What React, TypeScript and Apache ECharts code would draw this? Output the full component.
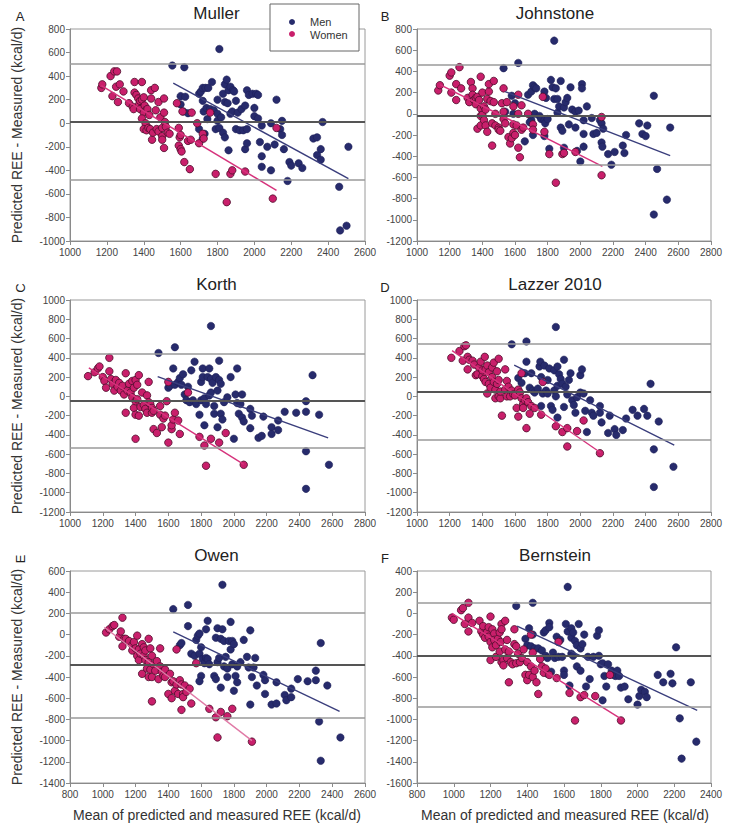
import React, { useEffect, useRef } from "react";
import * as echarts from "echarts";

type P = [number, number];

// ---------- DATA ----------
const panelTitles = ["Muller", "Johnstone", "Korth", "Lazzer 2010", "Owen", "Bernstein"];
const panelLetters = ["A", "B", "C", "D", "E", "F"];

const xMins = [1000, 1000, 1000, 1000, 800, 800];
const xMaxs = [2600, 2800, 2800, 2800, 2600, 2400];
const yMins = [-1000, -1200, -1200, -1200, -1400, -1600];
const yMaxs = [800, 800, 1000, 1000, 600, 400];

const meanBias = [10, -15, -50, 50, -285, -395];
const upperLoA = [505, 460, 440, 550, 210, 100];
const lowerLoA = [-478, -485, -535, -450, -780, -880];

const menFit: P[][] = [
  [[1560, 340], [2510, -470]],
  [[1540, 210], [2550, -395]],
  [[1535, 205], [2575, -430]],
  [[1595, 325], [2575, -505]],
  [[1430, 25], [2445, -725]],
  [[1345, -120], [2325, -915]],
];
const womenFit: P[][] = [
  [[1170, 320], [2120, -570]],
  [[1140, 275], [2135, -495]],
  [[1115, 295], [2060, -705]],
  [[1215, 475], [2125, -585]],
  [[1010, 70], [1910, -1000]],
  [[990, 0], [1915, -1000]],
];

const menA: P[] = [
  [1555, 490], [1620, 475], [1810, 630], [1600, 160], [1600, 230], [1625, 225], [1615, 100], [1640, 85],
  [1700, 250], [1710, 270], [1720, 300], [1735, 300], [1750, 300], [1770, 350], [1720, 190], [1725, 100],
  [1740, 130], [1760, 120], [1780, 110], [1745, 35], [1700, -50], [1720, -130], [1730, -90],
  [1800, 200], [1830, 250], [1840, 330], [1850, 370], [1860, 280], [1870, 310], [1885, 280], [1890, 270],
  [1840, 180], [1855, 170], [1870, 80], [1880, 100], [1900, 190], [1910, 90], [1930, 120], [1950, 150],
  [1960, 280], [1970, 240], [1990, 250], [2010, 250], [2020, 240], [2000, 130], [2000, 60], [2020, 40],
  [1800, 80], [1800, 20], [1820, 50], [1790, -50], [1810, -40], [1830, -80], [1840, -120], [1860, -230],
  [1900, -50], [1920, -60], [1940, -60], [1960, -50], [1950, -220], [1960, -170], [2040, -20], [2030, -160],
  [2040, -280], [2040, -370], [2070, -200], [2090, 0], [2090, -400], [2110, -180], [2120, 200], [2140, -50],
  [2150, 20], [2150, -100], [2160, -220], [2180, -490], [2190, -330], [2200, -360], [2240, -340], [2260, -380],
  [2320, -130], [2340, -120], [2340, -270], [2360, -220], [2360, -310], [2370, 10], [2460, -540], [2465, -910],
  [2500, -870], [2510, -200],
];
const womenA: P[] = [
  [1170, 300], [1175, 330], [1220, 400], [1240, 440], [1255, 440], [1230, 230], [1250, 310], [1260, 180],
  [1270, 330], [1290, 270], [1320, 170], [1340, 140], [1345, 120], [1350, 350], [1350, 260], [1360, 240],
  [1370, 210], [1375, 160], [1380, 190], [1380, 120], [1390, 350], [1390, 200], [1400, 220], [1405, 150],
  [1410, 110], [1400, 90], [1390, 40], [1410, 0], [1400, -50], [1415, -60], [1420, 120], [1425, -40],
  [1430, 70], [1435, -50], [1440, 210], [1440, 280], [1445, -140], [1450, -80], [1460, 300], [1465, 110],
  [1470, -50], [1480, 180], [1480, -70], [1490, 50], [1500, -110], [1500, -140], [1500, -40], [1510, 210],
  [1510, 90], [1515, 10], [1510, -210], [1520, -30], [1530, -80], [1540, -90], [1580, 170], [1590, -190],
  [1590, -40], [1595, -120], [1600, -100], [1600, -220], [1605, -240], [1610, 100], [1620, -330], [1650, -390],
  [1640, -150], [1655, -140], [1660, 90], [1690, 0], [1700, -170], [1720, -90], [1725, -130], [1760, 90],
  [1790, -430], [1850, -670], [1870, -430], [1880, -400], [1950, -410], [2100, -640], [2120, -40],
];

const menB: P[] = [
  [1530, 430], [1620, 480], [1840, 690], [1580, 170], [1600, 100], [1590, 0], [1540, 20], [1680, 180],
  [1700, 210], [1710, 270], [1720, 250], [1730, 240], [1700, -60], [1690, -80], [1710, -200], [1660, -260],
  [1720, 0], [1750, -20], [1760, -50], [1780, -60], [1785, -90], [1780, 210], [1790, 150], [1780, -210],
  [1800, -50], [1810, -330], [1820, 320], [1830, 250], [1840, 140], [1850, 240], [1860, 140], [1860, 10],
  [1870, 70], [1880, 310], [1880, -130], [1900, 60], [1890, -160], [1900, -320], [1910, 110], [1920, 150],
  [1930, -100], [1940, 250], [1950, 40], [1970, 20], [1970, -130], [1980, -350], [1990, 30], [2000, -450],
  [2010, 280], [2010, 240], [2020, -190], [2020, -310], [2020, -60], [2040, 70], [2070, -40], [2080, -190],
  [2100, -180], [2120, -60], [2130, -90], [2130, -270], [2135, -310], [2140, -140], [2170, -380], [2190, -480],
  [2210, -360], [2260, -300], [2270, -370], [2280, -200], [2360, -90], [2380, -190], [2400, -210], [2410, -110],
  [2450, 170], [2450, -950], [2470, -520], [2530, -810], [2550, -130],
];
const womenB: P[] = [
  [1130, 220], [1140, 270], [1200, 360], [1210, 390], [1210, 200], [1240, 280], [1240, 130], [1260, 440],
  [1270, 240], [1310, 150], [1320, 110], [1330, 300], [1340, 240], [1340, 180], [1350, 130], [1360, 150],
  [1360, 90], [1370, -140], [1370, 160], [1380, 130], [1390, 350], [1390, 50], [1390, -20], [1390, -110],
  [1400, -10], [1400, 200], [1410, -60], [1410, 70], [1420, 40], [1420, -110], [1430, -170], [1430, 140],
  [1440, 210], [1440, 280], [1450, 120], [1460, -90], [1460, -300], [1470, 310], [1470, 110], [1480, 0],
  [1480, -110], [1500, -130], [1500, -150], [1510, -160], [1520, 100], [1530, 240], [1530, 20], [1530, -50],
  [1540, -90], [1550, 110], [1560, -220], [1570, -280], [1580, -230], [1590, 70], [1590, -100], [1590, -180],
  [1600, -200], [1610, -110], [1620, 180], [1620, 0], [1620, -320], [1630, -410], [1640, -150], [1640, 80],
  [1650, -130], [1680, 0], [1710, -100], [1710, -150], [1770, 160], [1780, -170], [1810, -380], [1850, -650],
  [1890, -380], [1900, -370], [1970, -360], [2130, -580], [2130, -30],
];

const menC: P[] = [
  [1540, 450], [1640, 510], [1860, 730], [1630, 290], [1600, 90], [1610, 110], [1640, 120], [1660, 150],
  [1670, 190], [1680, 120], [1690, 230], [1700, 20], [1710, -40], [1720, 100], [1730, -60], [1740, 270],
  [1750, -40], [1760, 360], [1770, -80], [1790, -190], [1800, 150], [1800, -40], [1810, 200], [1810, 290],
  [1820, -20], [1820, -300], [1830, -80], [1840, 200], [1850, 10], [1850, 290], [1860, 180], [1860, 40],
  [1870, 140], [1880, -180], [1880, -100], [1890, 200], [1900, 60], [1900, -320], [1910, 370], [1910, 170],
  [1920, 130], [1920, -180], [1930, -240], [1940, -60], [1960, -10], [1980, 200], [2000, -440], [2010, 20],
  [2020, 290], [2020, -70], [2030, -180], [2040, -80], [2050, -220], [2050, 20], [2060, -260], [2100, -130],
  [2100, -330], [2110, -200], [2150, -430], [2170, -410], [2180, -210], [2230, -320], [2230, -390], [2270, -250],
  [2270, -350], [2310, -160], [2380, -170], [2440, -50], [2440, -160], [2440, -570], [2440, -960], [2480, 220],
  [2520, -190], [2580, -710],
];
const womenC: P[] = [
  [1110, 210], [1150, 250], [1170, 290], [1180, 310], [1200, 200], [1210, 160], [1220, 90], [1240, 400],
  [1240, 260], [1250, 180], [1260, 130], [1270, 60], [1280, 170], [1290, 100], [1300, 140], [1310, 60],
  [1320, 110], [1330, 20], [1340, 240], [1340, -170], [1350, 60], [1360, 130], [1370, 40], [1380, 160],
  [1380, -10], [1390, -120], [1390, 90], [1400, 170], [1400, -50], [1400, -190], [1400, -440], [1410, -30],
  [1410, 120], [1420, -200], [1420, 220], [1430, -110], [1440, 40], [1450, -90], [1460, -130], [1470, 10],
  [1470, -170], [1480, -60], [1480, 150], [1490, -80], [1500, -170], [1500, -120], [1510, -150], [1510, -340],
  [1530, -380], [1550, -190], [1550, -100], [1560, -320], [1570, -230], [1580, -200], [1590, -50], [1600, 150],
  [1600, -480], [1620, -340], [1620, -300], [1630, -240], [1640, -170], [1660, -250], [1670, -390], [1720, 40],
  [1790, -420], [1820, -510], [1830, -720], [1860, -440], [1910, -480], [1950, -380], [2060, -710],
];

const menD: P[] = [
  [1580, 540], [1670, 570], [1850, 720], [1620, 190], [1640, 140], [1670, 360], [1660, 240], [1690, 90],
  [1700, 240], [1710, 60], [1720, 40], [1740, 80], [1750, 310], [1755, 360], [1760, -100], [1760, 200],
  [1770, 30], [1780, 320], [1790, 60], [1800, 170], [1800, 30], [1810, 290], [1820, -100], [1830, -140],
  [1840, 270], [1840, 60], [1850, 0], [1860, 110], [1860, 310], [1860, -220], [1870, 230], [1880, 180],
  [1890, 130], [1900, -110], [1900, 380], [1910, 100], [1920, 20], [1930, 170], [1940, 240], [1950, -40],
  [1960, -90], [1970, -170], [1980, -10], [2000, 40], [2000, 220], [2010, 280], [2020, 30], [2030, -150],
  [2040, -370], [2060, -40], [2070, -170], [2080, -200], [2120, -100], [2120, -170], [2130, -270], [2170, -380],
  [2180, -200], [2210, -340], [2220, -400], [2260, -350], [2280, -230], [2320, -140], [2350, -200], [2390, -130],
  [2410, -200], [2430, 130], [2450, -550], [2450, -940], [2480, -260], [2570, -730],
];
const womenD: P[] = [
  [1210, 400], [1260, 470], [1280, 370], [1290, 520], [1300, 530], [1310, 410], [1310, 280], [1320, 380],
  [1340, 370], [1350, 330], [1360, 220], [1370, 230], [1380, 300], [1390, 360], [1400, 210], [1400, 270],
  [1410, 180], [1415, 410], [1420, 150], [1420, 280], [1430, 320], [1430, 30], [1440, 130], [1440, 250],
  [1450, 90], [1460, 300], [1460, 200], [1470, 150], [1470, 350], [1480, 70], [1480, -20], [1490, 260],
  [1490, 130], [1500, 170], [1500, 390], [1500, 0], [1510, -20], [1510, 50], [1520, -200], [1540, 70],
  [1540, 280], [1550, 160], [1550, 0], [1560, 100], [1570, 0], [1580, 60], [1590, 20], [1600, 10],
  [1610, -120], [1620, 70], [1620, -210], [1630, 40], [1640, -20], [1640, 240], [1650, -80], [1650, -120],
  [1660, -40], [1670, -330], [1670, -20], [1680, -60], [1690, -180], [1700, -100], [1720, -120], [1760, -190],
  [1770, 150], [1850, -310], [1890, -370], [1920, -330], [1920, -520], [1980, -360], [2020, -250], [2120, -590],
];

const menE: P[] = [
  [1430, 240], [1520, 280], [1730, 470], [1470, -100], [1480, -80], [1520, 80], [1540, -180], [1560, -200],
  [1570, -50], [1580, -10], [1590, 10], [1590, -180], [1600, -390], [1590, -440], [1600, -120], [1610, -230],
  [1620, -270], [1630, -220], [1630, 50], [1640, 130], [1640, -230], [1650, -280], [1680, -390], [1690, -420],
  [1690, -30], [1700, 60], [1700, -260], [1710, -220], [1720, -500], [1720, -40], [1730, 50], [1740, -300],
  [1740, -60], [1750, -210], [1760, -320], [1760, -400], [1770, -60], [1780, 120], [1780, -140], [1790, -60],
  [1790, -280], [1800, -90], [1800, -530], [1810, -390], [1820, -450], [1820, -300], [1840, -260], [1860, -50],
  [1880, -210], [1890, -310], [1900, 40], [1900, -660], [1910, -400], [1920, -310], [1930, -220], [1940, -480],
  [1980, -380], [1990, -430], [1990, -560], [2060, -450], [2030, -660], [2060, -650], [2110, -570], [2120, -620],
  [2150, -590], [2150, -510], [2190, -420], [2250, -440], [2300, -340], [2300, -430], [2320, -820], [2330, -1190],
  [2330, -80], [2370, -480], [2450, -970],
];
const womenE: P[] = [
  [1020, 20], [1040, 50], [1060, 80], [1070, 90], [1100, -20], [1110, 30], [1120, 160], [1120, -110],
  [1130, -40], [1140, -40], [1160, -60], [1180, -100], [1180, -150], [1190, -70], [1200, -130], [1210, -10],
  [1210, -200], [1220, -140], [1220, -240], [1230, -180], [1240, -90], [1240, -370], [1250, -120], [1250, -200],
  [1260, -240], [1260, -150], [1270, -320], [1280, -260], [1280, -400], [1280, -40], [1290, -130], [1290, -330],
  [1300, -630], [1300, -400], [1300, -200], [1310, -280], [1320, -340], [1330, -250], [1340, -420], [1350, -130],
  [1350, -300], [1360, -350], [1370, -390], [1380, -330], [1380, -400], [1400, -560], [1410, -370], [1420, -600],
  [1420, -450], [1430, -440], [1440, -530], [1450, -140], [1450, -470], [1460, -560], [1470, -430], [1480, -470],
  [1480, -710], [1490, -560], [1490, -590], [1500, -480], [1510, -540], [1530, -510], [1540, -650], [1570, -270],
  [1650, -700], [1690, -780], [1700, -970], [1720, -730], [1760, -770], [1790, -700], [1910, -1010],
];

const menF: P[] = [
  [1340, 70], [1430, 100], [1620, 250], [1390, -240], [1400, -300], [1410, -140], [1420, -310], [1430, -200],
  [1440, -330], [1460, -330], [1480, -350], [1490, -180], [1500, -160], [1500, -400], [1510, -570], [1510, -420],
  [1520, -90], [1520, -130], [1530, -550], [1540, -370], [1550, -420], [1560, -220], [1570, -410], [1580, -250],
  [1590, -410], [1600, -540], [1600, -580], [1610, -100], [1620, -170], [1630, -680], [1640, -140], [1640, -230],
  [1640, -380], [1650, -180], [1650, -400], [1660, -260], [1670, -500], [1670, -300], [1680, -100], [1690, -330],
  [1690, -540], [1700, -290], [1710, -200], [1720, -690], [1730, -410], [1740, -620], [1760, -410], [1780, -210],
  [1790, -160], [1790, -400], [1800, -480], [1810, -470], [1810, -820], [1820, -590], [1830, -690], [1840, -480],
  [1860, -540], [1870, -580], [1880, -590], [1890, -540], [1900, -590], [1910, -700], [1930, -690], [1950, -810],
  [2000, -860], [2010, -780], [2020, -720], [2040, -740], [2050, -790], [2110, -580], [2140, -650], [2180, -570],
  [2190, -660], [2210, -320], [2230, -990], [2240, -1370], [2290, -650], [2320, -1210],
];
const womenF: P[] = [
  [990, -40], [1000, -60], [1040, 30], [1050, 50], [1060, -100], [1080, 100], [1080, -40], [1080, -170],
  [1100, -90], [1140, -70], [1150, -170], [1160, -120], [1160, -200], [1170, -230], [1180, -180], [1190, -130],
  [1190, -220], [1200, -30], [1200, -440], [1200, -270], [1210, -150], [1210, -320], [1220, -190], [1220, -250],
  [1230, -300], [1230, -410], [1240, -240], [1250, -180], [1250, -360], [1255, -270], [1260, -100], [1260, -150],
  [1260, -460], [1270, -440], [1270, -490], [1280, -70], [1280, -340], [1290, -250], [1290, -420], [1300, -650],
  [1300, -360], [1310, -460], [1320, -480], [1330, -150], [1330, -290], [1340, -310], [1340, -470], [1350, -380],
  [1360, -460], [1370, -420], [1380, -340], [1390, -580], [1400, -630], [1400, -460], [1410, -580], [1420, -500],
  [1420, -200], [1430, -370], [1430, -600], [1440, -540], [1450, -650], [1460, -760], [1470, -430], [1480, -500],
  [1490, -560], [1500, -520], [1520, -580], [1560, -610], [1570, -270], [1630, -750], [1660, -1010], [1690, -790],
  [1710, -770], [1770, -780], [1850, -580], [1910, -1010],
];

const menData = [menA, menB, menC, menD, menE, menF];
const womenData = [womenA, womenB, womenC, womenD, womenE, womenF];

const xAxisTitle = "Mean of predicted and measured REE (kcal/d)";
const yAxisTitle = "Predicted REE - Measured (kcal/d)";

// ---------- LAYOUT / STYLE ----------
const FONT = "'Liberation Sans', Arial, Helvetica, sans-serif";
const colLeft = [70, 417];
const colWidth = [295, 294];
const rowTop = [29, 300, 571];
const rowHeight = 212;
const MEN_COLOR = "#272b6c";
const WOMEN_COLOR = "#c91f6b";

function buildOption() {
  const grid: any[] = [];
  const xAxis: any[] = [];
  const yAxis: any[] = [];
  const series: any[] = [];
  const graphic: any[] = [];

  for (let i = 0; i < 6; i++) {
    const col = i % 2;
    const row = Math.floor(i / 2);
    const left = colLeft[col];
    const top = rowTop[row];
    const width = colWidth[col];
    grid.push({
      left,
      top,
      width,
      height: rowHeight,
      show: true,
      borderColor: "#9a9a9a",
      borderWidth: 1,
      backgroundColor: "transparent",
      containLabel: false,
    });
    const axisCommon = {
      gridIndex: i,
      type: "value",
      interval: 200,
      splitLine: { show: false },
      axisLine: { show: true, onZero: false, lineStyle: { color: "#8a8a8a", width: 1 } },
      axisTick: { show: true, inside: false, length: 4, lineStyle: { color: "#8a8a8a" } },
      axisLabel: {
        fontSize: 10,
        color: "#444",
        fontFamily: FONT,
        margin: 6,
        formatter: (v: number) => String(v),
      },
    };
    xAxis.push({ ...axisCommon, min: xMins[i], max: xMaxs[i] });
    yAxis.push({ ...axisCommon, min: yMins[i], max: yMaxs[i], axisLabel: { ...axisCommon.axisLabel, margin: 5 } });

    series.push({
      type: "line",
      xAxisIndex: i,
      yAxisIndex: i,
      data: [],
      silent: true,
      z: 1,
      markLine: {
        silent: true,
        symbol: "none",
        label: { show: false },
        animation: false,
        data: [
          { yAxis: upperLoA[i], lineStyle: { color: "#9a9a9a", width: 1.5, type: "solid" } },
          { yAxis: meanBias[i], lineStyle: { color: "#555555", width: 2.2, type: "solid" } },
          { yAxis: lowerLoA[i], lineStyle: { color: "#9a9a9a", width: 1.5, type: "solid" } },
        ],
      },
    });

    series.push({
      name: "Men",
      type: "scatter",
      xAxisIndex: i,
      yAxisIndex: i,
      data: menData[i],
      symbol: "circle",
      symbolSize: 7.5,
      z: 2,
      itemStyle: { color: MEN_COLOR, borderColor: "#1c1f55", borderWidth: 0.5, opacity: 1 },
    });
    series.push({
      name: "Women",
      type: "scatter",
      xAxisIndex: i,
      yAxisIndex: i,
      data: womenData[i],
      symbol: "circle",
      symbolSize: 7.5,
      z: 3,
      itemStyle: { color: WOMEN_COLOR, borderColor: "#4d0f2c", borderWidth: 0.8, opacity: 1 },
    });
    series.push({
      name: "Men fit",
      type: "line",
      xAxisIndex: i,
      yAxisIndex: i,
      data: menFit[i],
      symbol: "none",
      silent: true,
      z: 4,
      lineStyle: { color: "#3a3e7c", width: 1.4 },
    });
    series.push({
      name: "Women fit",
      type: "line",
      xAxisIndex: i,
      yAxisIndex: i,
      data: womenFit[i],
      symbol: "none",
      silent: true,
      z: 4,
      lineStyle: { color: i === 4 ? "#e07aa6" : "#d6337c", width: 1.4 },
    });

    graphic.push({
      type: "text",
      x: left + width / 2 + (col === 0 ? -1 : -9),
      y: top - 16,
      z: 10,
      style: {
        text: panelTitles[i],
        fontSize: 17,
        fontFamily: FONT,
        fill: "#222",
        align: "center",
        verticalAlign: "middle",
        textAlign: "center",
        textVerticalAlign: "middle",
      },
    });
    const rotatedLetter = i === 2 || i === 4;
    graphic.push({
      type: "text",
      x: col === 0 ? 20 : 385,
      y: rotatedLetter ? top - 12 : top - 13,
      rotation: rotatedLetter ? Math.PI / 2 : 0,
      z: 10,
      style: {
        text: panelLetters[i],
        fontSize: 13,
        fontFamily: FONT,
        fill: "#222",
        align: "center",
        verticalAlign: "middle",
        textAlign: "center",
        textVerticalAlign: "middle",
      },
    });
  }

  for (let r = 0; r < 3; r++) {
    graphic.push({
      type: "text",
      x: 17,
      y: rowTop[r] + rowHeight / 2,
      rotation: Math.PI / 2,
      z: 10,
      style: {
        text: yAxisTitle,
        fontSize: 14,
        fontFamily: FONT,
        fill: "#333",
        align: "center",
        verticalAlign: "middle",
        textAlign: "center",
        textVerticalAlign: "middle",
      },
    });
  }
  for (let c = 0; c < 2; c++) {
    graphic.push({
      type: "text",
      x: c === 0 ? 217 : 565,
      y: 815,
      z: 10,
      style: {
        text: xAxisTitle,
        fontSize: 14,
        fontFamily: FONT,
        fill: "#333",
        align: "center",
        verticalAlign: "middle",
        textAlign: "center",
        textVerticalAlign: "middle",
      },
    });
  }

  graphic.push({
    type: "group",
    z: 20,
    children: [
      {
        type: "rect",
        shape: { x: 270, y: 4, width: 89, height: 47 },
        style: { fill: "#ffffff", stroke: "#666", lineWidth: 1 },
      },
      { type: "circle", shape: { cx: 292, cy: 22, r: 3 }, style: { fill: MEN_COLOR } },
      { type: "circle", shape: { cx: 292, cy: 34, r: 3 }, style: { fill: WOMEN_COLOR } },
      {
        type: "text",
        x: 310,
        y: 22,
        style: { text: "Men", fontSize: 11, fontFamily: FONT, fill: "#333", verticalAlign: "middle", textVerticalAlign: "middle" },
      },
      {
        type: "text",
        x: 310,
        y: 35,
        style: { text: "Women", fontSize: 11, fontFamily: FONT, fill: "#333", verticalAlign: "middle", textVerticalAlign: "middle" },
      },
    ],
  });

  return {
    animation: false,
    backgroundColor: "#ffffff",
    textStyle: { fontFamily: FONT },
    grid,
    xAxis,
    yAxis,
    series,
    graphic,
  };
}

export default function App() {
  const ref = useRef<HTMLDivElement>(null);
  useEffect(() => {
    if (!ref.current) return;
    const chart = echarts.init(ref.current, undefined, { renderer: "svg" });
    chart.setOption(buildOption() as any);
    return () => chart.dispose();
  }, []);
  return (
    <div
      ref={ref}
      style={{ position: "absolute", left: 0, top: 0, width: 731, height: 838, background: "#fff" }}
    />
  );
}
